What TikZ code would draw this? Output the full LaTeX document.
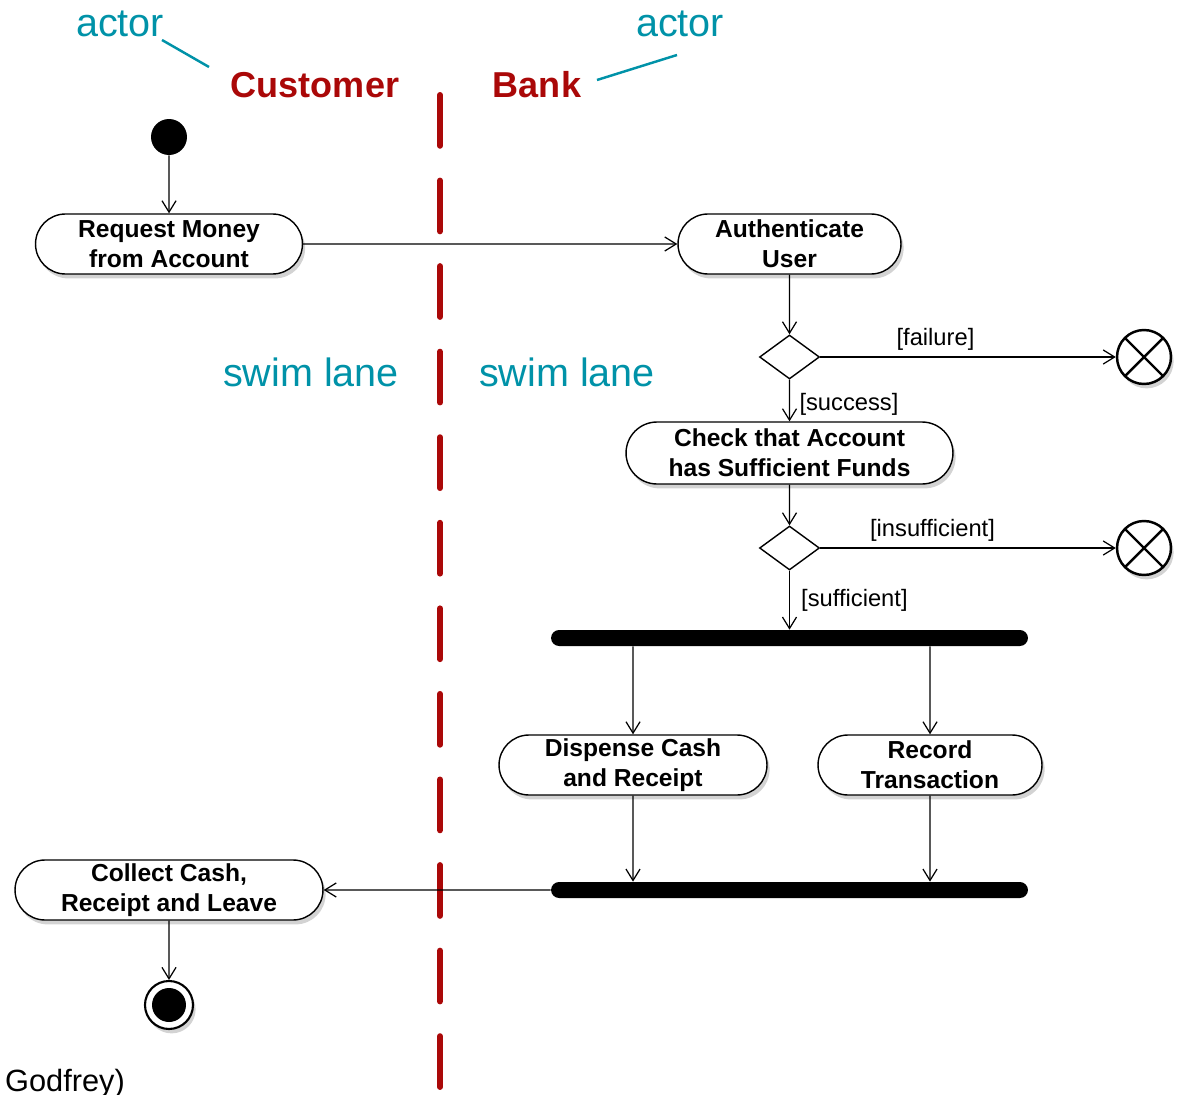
\documentclass[tikz,border=0pt]{standalone}
\usepackage{fontspec}
\setmainfont{Liberation Sans}
\usetikzlibrary{shapes.misc,shapes.geometric,shadows,arrows.meta}

\definecolor{lanered}{RGB}{170,8,8}
\definecolor{actorteal}{RGB}{0,146,168}

\tikzset{
  action/.style={rounded rectangle, draw, line width=0.8pt, fill=white,
    minimum height=1.2cm, inner sep=0pt, align=center,
    font=\fontsize{14}{17}\selectfont\bfseries,
    drop shadow={shadow xshift=1.5pt, shadow yshift=-2.5pt, opacity=.35}},
  decision/.style={diamond, draw, line width=0.8pt, fill=white,
    minimum width=1.2cm, minimum height=0.88cm, inner sep=0pt},
  syncbar/.style={fill=black, rounded corners=0.16cm, minimum width=9.54cm,
    minimum height=0.32cm, inner sep=0pt},
  startnode/.style={circle, fill=black, minimum size=0.72cm, inner sep=0pt},
  endnode/.style={circle, draw, line width=1.2pt, fill=white, minimum size=0.96cm,
    inner sep=0pt, drop shadow={shadow xshift=1.5pt, shadow yshift=-2.5pt, opacity=.35},
    path picture={\fill[black] (path picture bounding box.center) circle (0.34cm);}},
  flowend/.style={circle, draw, line width=1.4pt, fill=white, minimum size=1.08cm,
    inner sep=0pt, drop shadow={shadow xshift=1.5pt, shadow yshift=-2.5pt, opacity=.35},
    path picture={\draw[line width=1.4pt]
      (path picture bounding box.south west) -- (path picture bounding box.north east)
      (path picture bounding box.north west) -- (path picture bounding box.south east);}},
  guard/.style={font=\fontsize{13.5}{16}\selectfont},
  flow/.style={line width=0.7pt, -{Straight Barb[length=6.5pt,width=8pt]}},
  actorlabel/.style={text=actorteal, font=\fontsize{22.5}{27}\selectfont},
  lanename/.style={text=lanered, font=\fontsize{20.5}{24}\selectfont\bfseries}
}

\begin{document}
\begin{tikzpicture}[x=0.02cm,y=-0.02cm]
  \useasboundingbox (0,0) rectangle (1184,1095);

  \draw[lanered, line width=3.4pt, line cap=round, dash pattern=on 28.9pt off 19.8pt]
    (440,95) -- (440,1100);

  \node[actorlabel] (actorL) at (120,24) {actor};
  \node[actorlabel] (actorR) at (680,24) {actor};
  \node[lanename] (customer) at (315,85) {Customer};
  \node[lanename] (bank) at (537,85) {Bank};
  \coordinate (pL1) at (162,40);
  \coordinate (pL2) at (209,67);
  \coordinate (pR1) at (677,55);
  \coordinate (pR2) at (597,80);
  \draw[actorteal, line width=1.4pt] (pL1) -- (pL2);
  \draw[actorteal, line width=1.4pt] (pR1) -- (pR2);

  \node[actorlabel] (laneL) at (311,372) {swim lane};
  \node[actorlabel] (laneR) at (567,372) {swim lane};

  \node[startnode] (start) at (169,137) {};
  \node[action, minimum width=5.34cm] (request) at (169,244) {Request Money\\from Account};
  \node[action, minimum width=4.46cm] (auth) at (789.5,244) {Authenticate\\User};
  \node[decision] (dec1) at (789.5,357) {};
  \node[flowend] (fail1) at (1144,357) {};
  \node[action, minimum width=6.54cm, minimum height=1.24cm] (check) at (789.5,453) {Check that Account\\has Sufficient Funds};
  \node[decision] (dec2) at (789.5,548) {};
  \node[flowend] (fail2) at (1144,548) {};
  \node[syncbar] (fork) at (789.5,638) {};
  \node[action, minimum width=5.36cm] (dispense) at (633,765) {Dispense Cash\\and Receipt};
  \node[action, minimum width=4.48cm] (record) at (930,765) {Record\\Transaction};
  \node[syncbar] (join) at (789.5,890) {};
  \node[action, minimum width=6.16cm] (collect) at (169,890) {Collect Cash,\\Receipt and Leave};
  \node[endnode] (finish) at (169,1005) {};

  \node[anchor=base west, font=\fontsize{17.5}{21}\selectfont] (credit) at (-1,1091) {Godfrey)};

  \begin{scope}[flow]
    \draw (start) -- (request);
    \draw (request) -- (auth);
    \draw (auth) -- (dec1);
    \draw (dec1) -- node[guard, above, pos=.39] {[failure]} (fail1);
    \draw (dec1) -- node[guard, right, xshift=2pt, yshift=-2pt, midway] {[success]} (check);
    \draw (check) -- (dec2);
    \draw (dec2) -- node[guard, above, pos=.38] {[insufficient]} (fail2);
    \draw (dec2) -- node[guard, right, xshift=3pt, midway] {[sufficient]} (fork);
    \draw (fork.south -| dispense.north) -- (dispense);
    \draw (fork.south -| record.north) -- (record);
    \draw (dispense) -- (join.north -| dispense.south);
    \draw (record) -- (join.north -| record.south);
    \draw (join) -- (collect);
    \draw (collect) -- (finish);
  \end{scope}
\end{tikzpicture}
\end{document}
